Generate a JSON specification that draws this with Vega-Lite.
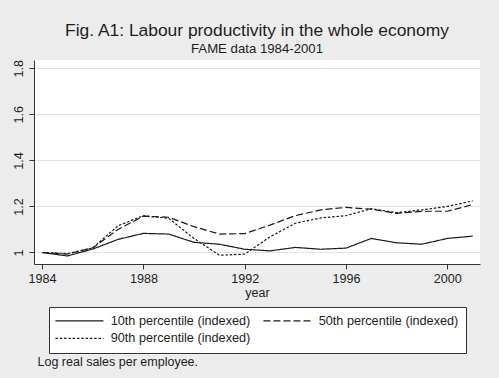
{
  "$schema": "https://vega.github.io/schema/vega-lite/v6.json",
  "width": 446,
  "height": 204,
  "autosize": "none",
  "padding": {"left": 34, "top": 60, "right": 19, "bottom": 114},
  "background": "#ececec",
  "title": {
    "text": "Fig. A1: Labour productivity in the whole economy",
    "subtitle": "FAME data 1984-2001",
    "anchor": "middle",
    "frame": "group",
    "font": "Liberation Sans",
    "subtitleFont": "Liberation Sans",
    "fontSize": 17.4,
    "subtitleFontSize": 13.2,
    "fontWeight": "normal",
    "color": "#1e1e1e",
    "subtitleColor": "#1e1e1e",
    "subtitlePadding": 4,
    "offset": 4
  },
  "config": {
    "view": {"fill": "white", "stroke": null},
    "font": "Liberation Sans",
    "axis": {
      "labelFont": "Liberation Sans",
      "titleFont": "Liberation Sans",
      "labelColor": "#1e1e1e",
      "titleColor": "#1e1e1e",
      "domainColor": "#333333",
      "tickColor": "#333333",
      "tickSize": 5,
      "labelFontSize": 12.6,
      "titleFontSize": 12.5,
      "titleFontWeight": "normal"
    }
  },
  "data": {
    "values": [
      {"year": 1984, "series": "10th percentile (indexed)", "value": 1.0},
      {"year": 1985, "series": "10th percentile (indexed)", "value": 0.985},
      {"year": 1986, "series": "10th percentile (indexed)", "value": 1.015},
      {"year": 1987, "series": "10th percentile (indexed)", "value": 1.057},
      {"year": 1988, "series": "10th percentile (indexed)", "value": 1.083},
      {"year": 1989, "series": "10th percentile (indexed)", "value": 1.08},
      {"year": 1990, "series": "10th percentile (indexed)", "value": 1.044},
      {"year": 1991, "series": "10th percentile (indexed)", "value": 1.036},
      {"year": 1992, "series": "10th percentile (indexed)", "value": 1.014},
      {"year": 1993, "series": "10th percentile (indexed)", "value": 1.007},
      {"year": 1994, "series": "10th percentile (indexed)", "value": 1.022},
      {"year": 1995, "series": "10th percentile (indexed)", "value": 1.014},
      {"year": 1996, "series": "10th percentile (indexed)", "value": 1.019},
      {"year": 1997, "series": "10th percentile (indexed)", "value": 1.061},
      {"year": 1998, "series": "10th percentile (indexed)", "value": 1.042},
      {"year": 1999, "series": "10th percentile (indexed)", "value": 1.036},
      {"year": 2000, "series": "10th percentile (indexed)", "value": 1.061},
      {"year": 2001, "series": "10th percentile (indexed)", "value": 1.071},
      {"year": 1984, "series": "50th percentile (indexed)", "value": 1.0},
      {"year": 1985, "series": "50th percentile (indexed)", "value": 0.993},
      {"year": 1986, "series": "50th percentile (indexed)", "value": 1.02},
      {"year": 1987, "series": "50th percentile (indexed)", "value": 1.1},
      {"year": 1988, "series": "50th percentile (indexed)", "value": 1.158},
      {"year": 1989, "series": "50th percentile (indexed)", "value": 1.153},
      {"year": 1990, "series": "50th percentile (indexed)", "value": 1.112},
      {"year": 1991, "series": "50th percentile (indexed)", "value": 1.08},
      {"year": 1992, "series": "50th percentile (indexed)", "value": 1.082},
      {"year": 1993, "series": "50th percentile (indexed)", "value": 1.119},
      {"year": 1994, "series": "50th percentile (indexed)", "value": 1.16},
      {"year": 1995, "series": "50th percentile (indexed)", "value": 1.185},
      {"year": 1996, "series": "50th percentile (indexed)", "value": 1.196},
      {"year": 1997, "series": "50th percentile (indexed)", "value": 1.188},
      {"year": 1998, "series": "50th percentile (indexed)", "value": 1.17},
      {"year": 1999, "series": "50th percentile (indexed)", "value": 1.179},
      {"year": 2000, "series": "50th percentile (indexed)", "value": 1.179},
      {"year": 2001, "series": "50th percentile (indexed)", "value": 1.208},
      {"year": 1984, "series": "90th percentile (indexed)", "value": 1.0},
      {"year": 1985, "series": "90th percentile (indexed)", "value": 0.995},
      {"year": 1986, "series": "90th percentile (indexed)", "value": 1.02},
      {"year": 1987, "series": "90th percentile (indexed)", "value": 1.116},
      {"year": 1988, "series": "90th percentile (indexed)", "value": 1.16},
      {"year": 1989, "series": "90th percentile (indexed)", "value": 1.148},
      {"year": 1990, "series": "90th percentile (indexed)", "value": 1.061},
      {"year": 1991, "series": "90th percentile (indexed)", "value": 0.988},
      {"year": 1992, "series": "90th percentile (indexed)", "value": 0.993},
      {"year": 1993, "series": "90th percentile (indexed)", "value": 1.068},
      {"year": 1994, "series": "90th percentile (indexed)", "value": 1.127},
      {"year": 1995, "series": "90th percentile (indexed)", "value": 1.15},
      {"year": 1996, "series": "90th percentile (indexed)", "value": 1.16},
      {"year": 1997, "series": "90th percentile (indexed)", "value": 1.19},
      {"year": 1998, "series": "90th percentile (indexed)", "value": 1.173},
      {"year": 1999, "series": "90th percentile (indexed)", "value": 1.185},
      {"year": 2000, "series": "90th percentile (indexed)", "value": 1.2},
      {"year": 2001, "series": "90th percentile (indexed)", "value": 1.224}
    ]
  },
  "mark": {"type": "line", "color": "#1a1a1a", "strokeWidth": 1.2},
  "encoding": {
    "x": {
      "field": "year",
      "type": "quantitative",
      "scale": {"domain": [1983.68, 2001.29], "nice": false, "zero": false},
      "axis": {
        "values": [1984, 1988, 1992, 1996, 2000],
        "format": "d",
        "grid": false,
        "labelPadding": 3,
        "title": "year",
        "titleBaseline": "alphabetic",
        "titleY": 32
      }
    },
    "y": {
      "field": "value",
      "type": "quantitative",
      "scale": {"domain": [0.95, 1.836], "nice": false, "zero": false},
      "axis": {
        "values": [1, 1.2, 1.4, 1.6, 1.8],
        "format": ".1~f",
        "grid": true,
        "gridColor": "#e4e4e4",
        "gridWidth": 1.2,
        "labelAngle": 270,
        "labelAlign": "center",
        "labelBaseline": "bottom",
        "labelPadding": 4,
        "title": "Log real sales per employee.",
        "titleAngle": 0,
        "titleAlign": "left",
        "titleBaseline": "alphabetic",
        "titleX": 3,
        "titleY": 305
      }
    },
    "strokeDash": {
      "field": "series",
      "type": "nominal",
      "scale": {
        "domain": ["10th percentile (indexed)", "50th percentile (indexed)", "90th percentile (indexed)"],
        "range": [[1, 0], [7, 3], [2.5, 1.8]]
      },
      "legend": {
        "orient": "none",
        "legendX": 15,
        "legendY": 247,
        "direction": "horizontal",
        "columns": 2,
        "title": null,
        "strokeColor": "#333333",
        "fillColor": "white",
        "padding": 7,
        "symbolType": "M-2.3,0H13.7",
        "symbolSize": 36,
        "symbolStrokeWidth": 1.2,
        "symbolStrokeColor": "#1a1a1a",
        "labelOffset": 42,
        "labelFont": "Liberation Sans",
        "labelFontSize": 12.7,
        "labelColor": "#1e1e1e",
        "labelLimit": 0,
        "columnPadding": 10,
        "rowPadding": 4
      }
    }
  }
}
